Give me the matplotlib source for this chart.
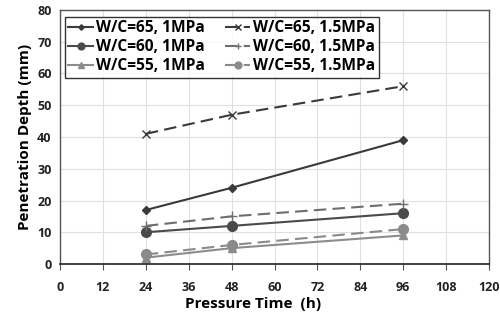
import matplotlib
matplotlib.use("Agg")
import matplotlib.pyplot as plt

plt.rcParams['font.family'] = ['Open Sans', 'DejaVu Sans']

time_h = [24, 48, 96]
labels = ["W/C=65, 1MPa", "W/C=60, 1MPa", "W/C=55, 1MPa",
          "W/C=65, 1.5MPa", "W/C=60, 1.5MPa", "W/C=55, 1.5MPa"]
wc65_1 = [17, 24, 39]
wc60_1 = [10, 12, 16]
wc55_1 = [2, 5, 9]
wc65_15 = [41, 47, 56]
wc60_15 = [12, 15, 19]
wc55_15 = [3, 6, 11]
xticks = [0, 12, 24, 36, 48, 60, 72, 84, 96, 108, 120]
yticks = [0, 10, 20, 30, 40, 50, 60, 70, 80]

fig = plt.figure(figsize=(5.0, 3.21), dpi=100)
ax = fig.add_axes([60/500, 1-264/321, 429/500, 254/321])

styles = [
    (wc65_1, dict(color='#3a3a3a', marker='D', ms=4, ls='-', lw=1.5)),
    (wc60_1, dict(color='#4a4a4a', marker='o', ms=7, ls='-', lw=1.5)),
    (wc55_1, dict(color='#8c8c8c', marker='^', ms=6, ls='-', lw=1.5)),
    (wc65_15, dict(color='#3a3a3a', marker='x', ms=6, ls=(0, (6, 3)), lw=1.5, mew=1.0)),
    (wc60_15, dict(color='#6e6e6e', marker='+', ms=7, ls=(0, (6, 3)), lw=1.5, mew=1.0)),
    (wc55_15, dict(color='#8a8a8a', marker='o', ms=7, ls=(0, (6, 3)), lw=1.5)),
]
for (vals, st), lab in zip(styles, labels):
    ax.plot(time_h, vals, label=lab, **st)

ax.set_xlim(0, 120)
ax.set_ylim(0, 80)
ax.set_xticks(xticks)
ax.set_yticks(yticks)
ax.grid(True, color='#e0e0e0', lw=0.8)
ax.set_axisbelow(True)
for s in ['top', 'right', 'left']:
    ax.spines[s].set_color('#555555')
    ax.spines[s].set_linewidth(1.0)
ax.spines['bottom'].set_color('#222222')
ax.spines['bottom'].set_linewidth(1.2)
ax.tick_params(axis='x', direction='out', length=4, color='#555555', pad=8,
               labelsize=9)
ax.tick_params(axis='y', length=0, pad=6, labelsize=9)
for t in ax.get_xticklabels() + ax.get_yticklabels():
    t.set_fontweight('bold')
    t.set_color('#222222')

ax.set_xlabel("Pressure Time  (h)", fontsize=11, fontweight='bold', labelpad=4)
ax.xaxis.set_label_coords(0.45, -0.13)
ax.set_ylabel("Penetration Depth (mm)", fontsize=11, fontweight='bold', labelpad=4)

leg = ax.legend(ncol=2, loc='upper left', bbox_to_anchor=(0.012, 0.972),
                frameon=True, fancybox=False, edgecolor='black',
                handlelength=1.6, handletextpad=0.2, markerscale=0.7,
                columnspacing=1.3, labelspacing=0.2, borderpad=0.2,
                borderaxespad=0.0,
                prop={'weight': 'bold', 'size': 11.2})
leg.get_frame().set_linewidth(1.0)

fig.savefig("out.png", dpi=100)
